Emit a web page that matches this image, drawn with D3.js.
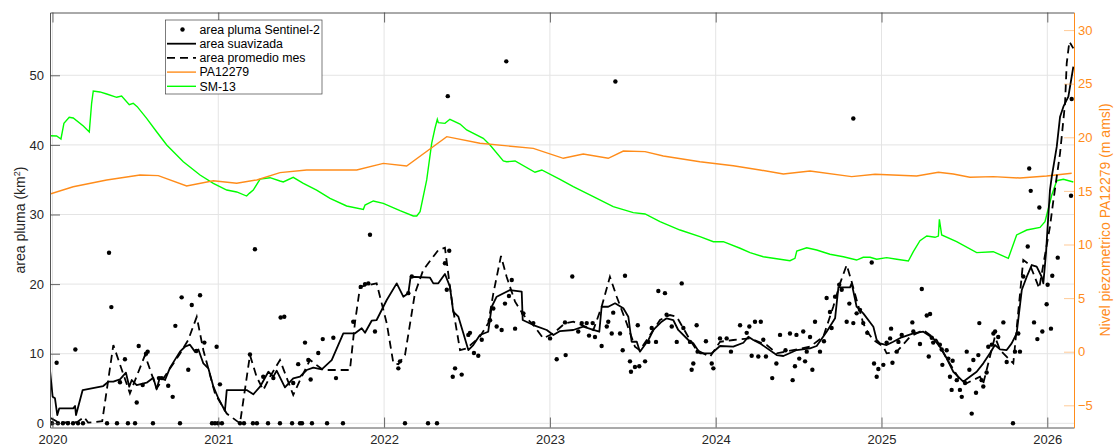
<!DOCTYPE html>
<html>
<head>
<meta charset="utf-8">
<script src="https://cdn.jsdelivr.net/npm/d3@7"></script>
<style>
  body { margin: 0; background: #fff; }
  svg { display: block; font-family: "Liberation Sans", Arial, Helvetica, sans-serif; }
</style>
</head>
<body>
<div id="chart"></div>
<script>
// tick values
const yearTicks = [2020, 2021, 2022, 2023, 2024, 2025, 2026];
const areaTicks = [0, 10, 20, 30, 40, 50];
const levelTicks = [-5, 0, 5, 10, 15, 20, 25, 30];

// area pluma Sentinel-2 (decimal year, km2)
const areaObs = [
  [2020.025,8.7],[2020.138,10.6],[2020.341,24.5],[2020.355,16.7],[2020.407,5.9],[2020.437,9.2],[2020.508,3.0],
  [2020.520,11.1],[2020.544,5.5],[2020.564,10.0],[2020.574,10.3],[2020.642,6.5],[2020.659,6.5],[2020.698,5.4],
  [2020.725,3.8],[2020.741,14.0],[2020.779,18.1],[2020.819,7.7],[2020.840,17.0],[2020.867,10.4],[2020.890,18.4],
  [2020.916,11.6],[2020.990,11.0],[2021.010,5.6],[2021.191,9.9],[2021.221,25.0],[2021.271,6.7],[2021.332,6.5],
  [2021.376,15.2],[2021.398,15.3],[2021.452,5.8],[2021.482,8.5],[2021.523,11.6],[2021.543,9.1],[2021.557,6.3],
  [2021.603,10.1],[2021.630,12.1],[2021.694,12.3],[2021.710,6.5],[2021.814,14.6],[2021.859,19.6],[2021.885,20.0],
  [2021.905,20.1],[2021.915,27.1],[2021.945,13.2],[2022.086,7.9],[2022.096,8.9],[2022.146,18.7],[2022.167,21.1],
  [2022.367,23.0],[2022.378,19.2],[2022.393,24.8],[2022.384,47.0],[2022.414,6.7],[2022.428,7.9],[2022.468,7.0],
  [2022.508,12.7],[2022.518,13.0],[2022.542,10.1],[2022.568,9.7],[2022.589,12.0],[2022.639,14.8],[2022.659,16.5],
  [2022.679,13.9],[2022.709,13.4],[2022.729,17.2],[2022.737,52.0],[2022.753,18.3],[2022.770,20.6],[2022.790,13.6],
  [2022.840,15.8],[2022.900,14.4],[2023.001,12.2],[2023.041,9.2],[2023.091,14.5],[2023.095,9.8],[2023.135,21.1],
  [2023.171,13.2],[2023.192,14.4],[2023.222,14.4],[2023.236,12.6],[2023.258,14.4],[2023.272,12.4],[2023.312,11.1],
  [2023.343,13.9],[2023.352,14.6],[2023.373,12.9],[2023.382,15.9],[2023.395,49.1],[2023.423,12.9],[2023.439,10.5],
  [2023.453,21.2],[2023.483,8.9],[2023.489,7.4],[2023.513,8.1],[2023.530,14.1],[2023.539,8.2],[2023.574,8.9],
  [2023.594,11.7],[2023.614,13.7],[2023.640,11.7],[2023.654,19.0],[2023.694,18.7],[2023.704,15.6],[2023.735,13.9],
  [2023.765,11.7],[2023.795,20.1],[2023.805,13.7],[2023.845,11.7],[2023.855,7.7],[2023.865,8.6],[2023.885,14.1],
  [2023.891,10.3],[2023.941,11.8],[2023.976,8.6],[2023.986,7.9],[2024.026,12.2],[2024.066,12.2],[2024.092,10.3],
  [2024.147,14.1],[2024.187,13.0],[2024.203,13.9],[2024.217,9.7],[2024.237,14.6],[2024.257,9.6],[2024.272,14.6],
  [2024.287,12.0],[2024.303,9.6],[2024.341,6.5],[2024.366,8.6],[2024.388,12.7],[2024.421,10.5],[2024.448,12.9],
  [2024.464,6.2],[2024.478,8.2],[2024.487,12.7],[2024.504,9.3],[2024.528,13.2],[2024.539,8.9],[2024.549,10.3],
  [2024.569,12.4],[2024.583,7.7],[2024.599,14.6],[2024.629,10.3],[2024.653,11.8],[2024.669,18.0],[2024.689,16.0],
  [2024.699,13.7],[2024.720,18.2],[2024.745,19.9],[2024.760,19.2],[2024.790,14.6],[2024.806,17.2],[2024.830,14.4],
  [2024.830,43.8],[2024.850,15.8],[2024.870,16.3],[2024.890,14.4],[2024.914,13.0],[2024.941,23.1],[2024.955,8.6],
  [2024.971,6.7],[2024.981,7.8],[2025.011,8.4],[2025.031,11.6],[2025.052,12.2],[2025.058,13.6],[2025.066,8.7],
  [2025.092,10.3],[2025.102,11.7],[2025.122,12.7],[2025.186,14.5],[2025.192,13.2],[2025.232,11.4],[2025.243,19.3],
  [2025.273,15.5],[2025.285,9.6],[2025.293,15.7],[2025.303,12.3],[2025.312,11.6],[2025.352,11.3],[2025.363,10.6],
  [2025.367,8.4],[2025.393,10.5],[2025.403,9.3],[2025.413,6.7],[2025.423,4.8],[2025.429,9.0],[2025.454,6.2],
  [2025.473,4.8],[2025.484,3.8],[2025.504,5.8],[2025.514,10.3],[2025.530,7.7],[2025.544,1.4],[2025.554,9.1],
  [2025.570,4.4],[2025.584,9.8],[2025.590,14.4],[2025.604,6.2],[2025.614,5.3],[2025.634,7.3],[2025.644,11.0],
  [2025.665,11.3],[2025.675,12.9],[2025.685,13.2],[2025.704,12.4],[2025.735,14.5],[2025.755,8.8],[2025.805,10.3],
  [2025.825,12.9],[2025.835,10.3],[2025.855,21.1],[2025.882,25.4],[2025.891,36.6],[2025.900,33.4],[2025.920,14.5],
  [2025.940,12.1],[2025.952,31.0],[2025.970,13.2],[2025.996,17.1],[2026.002,19.9],[2026.022,13.6],[2026.030,21.2],
  [2026.063,23.8],[2026.143,32.7],[2026.147,46.6],
  [2019.985,0],[2019.997,0],[2020.033,0],[2020.063,0],[2020.093,0],[2020.124,0],[2020.154,0],[2020.184,0],
  [2020.329,0],[2020.389,0],[2020.455,0],[2020.498,0],[2020.606,0],[2020.769,0],[2020.962,0],[2020.980,0],
  [2020.998,0],[2021.022,0],[2021.131,0],[2021.155,0],[2021.209,0],[2021.233,0],[2021.300,0],[2021.372,0],
  [2021.445,0],[2021.493,0],[2021.505,0],[2021.565,0],[2021.656,0],[2021.752,0],[2022.126,0],[2022.265,0],
  [2022.319,0],[2025.793,0]
];

// area suavizada
const areaSmooth = [
  [2019.985,7.66],[2020.001,3.82],[2020.015,3.59],[2020.029,1.19],[2020.041,2.15],[2020.125,2.15],[2020.136,2.5],
  [2020.142,1.19],[2020.182,4.78],[2020.306,5.36],[2020.337,5.98],[2020.367,5.98],[2020.407,6.32],[2020.443,7.27],
  [2020.463,5.26],[2020.478,6.22],[2020.508,5.5],[2020.568,5.83],[2020.608,6.55],[2020.628,4.89],[2020.648,6.61],
  [2020.679,6.22],[2020.709,8.0],[2020.769,10.3],[2020.799,11.0],[2020.829,11.3],[2020.859,10.3],[2020.880,10.6],
  [2020.910,8.6],[2020.940,7.9],[2020.970,5.3],[2021.000,3.6],[2021.040,1.8],[2021.051,4.78],[2021.171,4.78],
  [2021.211,4.17],[2021.252,5.26],[2021.302,7.41],[2021.332,6.7],[2021.352,7.56],[2021.402,5.17],[2021.452,6.47],
  [2021.493,6.7],[2021.533,7.66],[2021.573,7.99],[2021.624,7.76],[2021.684,9.09],[2021.754,12.93],[2021.825,12.93],
  [2021.865,13.65],[2021.885,13.02],[2021.925,14.74],[2021.955,14.84],[2022.016,17.72],[2022.076,20.11],
  [2022.116,18.19],[2022.146,18.68],[2022.160,21.06],[2022.277,20.92],[2022.297,20.11],[2022.327,20.11],
  [2022.367,21.45],[2022.397,19.63],[2022.417,16.03],[2022.448,15.32],[2022.478,12.93],[2022.508,10.53],
  [2022.538,11.25],[2022.578,12.69],[2022.628,13.16],[2022.649,16.75],[2022.679,18.19],[2022.759,19.15],
  [2022.830,18.91],[2022.836,14.84],[2022.900,14.12],[2022.981,13.41],[2023.021,12.69],[2023.061,13.26],
  [2023.141,13.41],[2023.201,13.88],[2023.262,13.41],[2023.298,13.16],[2023.312,16.75],[2023.352,16.75],
  [2023.393,17.24],[2023.443,16.52],[2023.473,15.32],[2023.493,11.72],[2023.524,11.72],[2023.543,10.29],
  [2023.594,11.97],[2023.624,13.41],[2023.674,14.6],[2023.704,15.09],[2023.744,14.84],[2023.774,13.41],
  [2023.835,11.97],[2023.865,11.49],[2023.905,10.06],[2023.976,10.06],[2024.026,11.11],[2024.106,11.01],
  [2024.167,11.58],[2024.197,12.44],[2024.227,11.97],[2024.267,11.49],[2024.368,9.81],[2024.408,9.67],
  [2024.489,10.53],[2024.569,10.78],[2024.609,11.11],[2024.669,13.16],[2024.720,15.09],[2024.740,19.54],
  [2024.810,19.54],[2024.820,20.11],[2024.850,16.75],[2024.890,15.8],[2024.951,13.88],[2024.971,11.97],
  [2024.991,11.49],[2025.031,11.25],[2025.071,11.72],[2025.122,12.36],[2025.192,12.93],[2025.252,13.16],
  [2025.312,12.21],[2025.352,11.01],[2025.393,9.34],[2025.433,7.41],[2025.473,6.47],[2025.493,5.98],
  [2025.533,6.7],[2025.574,7.41],[2025.614,8.62],[2025.654,10.06],[2025.684,11.25],[2025.715,10.63],
  [2025.755,10.53],[2025.785,11.49],[2025.815,12.93],[2025.846,19.15],[2025.876,21.06],[2025.906,22.74],
  [2025.936,22.5],[2025.966,21.06],[2025.976,20.11],[2025.992,24.43],[2026.016,33.52],[2026.027,35.43],
  [2026.057,39.74],[2026.077,44.05],[2026.097,45.49],[2026.127,46.93],[2026.157,51.24]
];

// area promedio mes
const areaMonthly = [
  [2019.985,0.8],[2020.040,0.1],[2020.150,0.2],[2020.190,0.9],[2020.215,0.1],[2020.300,0.3],[2020.367,11.25],
  [2020.467,4.3],[2020.558,9.8],[2020.628,5.0],[2020.769,10.0],[2020.819,12.0],[2020.870,15.3],[2020.910,10.5],
  [2020.980,4.3],[2021.051,1.4],[2021.131,0.0],[2021.191,9.8],[2021.231,6.7],[2021.271,4.78],[2021.312,6.7],
  [2021.372,9.1],[2021.452,4.07],[2021.493,6.22],[2021.553,9.1],[2021.633,7.66],[2021.794,7.66],[2021.825,14.6],
  [2021.855,19.63],[2021.955,20.11],[2022.016,14.37],[2022.056,8.62],[2022.086,8.5],[2022.126,9.8],[2022.186,18.68],
  [2022.236,22.03],[2022.327,24.9],[2022.367,25.23],[2022.397,19.63],[2022.417,16.28],[2022.458,10.53],
  [2022.498,10.78],[2022.578,12.44],[2022.628,14.37],[2022.659,18.68],[2022.705,24.04],[2022.739,21.06],
  [2022.790,17.47],[2022.840,15.56],[2022.900,14.12],[2022.960,12.21],[2023.021,12.93],[2023.091,14.37],
  [2023.141,14.6],[2023.192,14.12],[2023.262,13.41],[2023.312,16.75],[2023.362,21.06],[2023.403,18.19],
  [2023.463,14.37],[2023.513,11.01],[2023.543,10.5],[2023.604,12.69],[2023.664,14.84],[2023.724,15.56],
  [2023.765,15.3],[2023.805,13.65],[2023.845,11.97],[2023.885,10.53],[2023.966,9.57],[2024.026,11.72],
  [2024.106,11.97],[2024.207,12.21],[2024.308,11.25],[2024.368,10.06],[2024.569,11.01],[2024.649,12.44],
  [2024.709,16.75],[2024.750,20.11],[2024.790,22.74],[2024.820,20.34],[2024.850,17.72],[2024.890,14.37],
  [2024.921,12.93],[2024.951,11.97],[2025.011,11.01],[2025.031,10.06],[2025.092,10.29],[2025.172,12.44],
  [2025.252,13.41],[2025.333,11.97],[2025.393,9.3],[2025.473,6.22],[2025.513,5.75],[2025.594,6.7],
  [2025.614,5.75],[2025.684,12.44],[2025.715,10.53],[2025.795,8.62],[2025.855,23.46],[2025.896,22.74],
  [2025.951,19.4],[2026.016,28.25],[2026.037,32.08],[2026.077,38.82],[2026.107,45.98],[2026.117,51.72],
  [2026.133,54.83],[2026.157,53.88]
];

// PA12279 nivel (m amsl)
const levelPA12279 = [
  [2019.985,14.71],[2020.125,15.39],[2020.327,16.02],[2020.528,16.48],[2020.638,16.42],[2020.809,15.46],
  [2020.970,15.95],[2021.111,15.71],[2021.232,16.02],[2021.372,16.7],[2021.533,16.95],[2021.835,16.95],
  [2021.995,17.57],[2022.136,17.32],[2022.378,20.06],[2022.578,19.44],[2022.900,18.97],[2023.081,18.04],
  [2023.201,18.44],[2023.352,18.04],[2023.443,18.72],[2023.574,18.66],[2023.684,18.26],[2023.905,17.72],
  [2024.106,17.35],[2024.267,16.95],[2024.408,16.58],[2024.569,16.86],[2024.820,16.33],[2024.961,16.55],
  [2025.212,16.39],[2025.343,16.74],[2025.433,16.58],[2025.533,16.27],[2025.674,16.33],[2025.835,16.2],
  [2025.996,16.39],[2026.147,16.64]
];

// SM-13 nivel (m amsl)
const levelSM13 = [
  [2019.985,20.15],[2020.025,20.12],[2020.051,19.84],[2020.069,21.3],[2020.101,21.87],[2020.125,21.8],
  [2020.186,21.05],[2020.222,20.5],[2020.236,23.17],[2020.246,24.32],[2020.286,24.23],[2020.327,24.04],
  [2020.387,23.73],[2020.417,23.85],[2020.463,23.04],[2020.487,23.17],[2020.511,22.86],[2020.568,21.77],
  [2020.628,20.52],[2020.689,19.28],[2020.789,17.72],[2020.890,16.48],[2020.970,15.71],[2021.051,15.08],
  [2021.111,14.9],[2021.171,14.52],[2021.187,14.77],[2021.211,15.08],[2021.252,16.1],[2021.312,16.23],
  [2021.372,15.92],[2021.392,15.83],[2021.452,16.27],[2021.513,15.71],[2021.593,15.08],[2021.674,14.31],
  [2021.774,13.59],[2021.875,13.28],[2021.885,13.68],[2021.935,14.06],[2021.995,13.84],[2022.096,13.15],
  [2022.176,12.66],[2022.197,12.66],[2022.217,13.06],[2022.257,16.02],[2022.287,19.44],[2022.307,20.84],
  [2022.321,21.68],[2022.327,21.36],[2022.367,21.3],[2022.397,21.68],[2022.458,21.24],[2022.498,20.68],
  [2022.598,19.9],[2022.639,19.28],[2022.719,17.79],[2022.739,17.72],[2022.790,17.79],[2022.910,16.74],
  [2022.951,16.95],[2023.061,16.08],[2023.141,15.39],[2023.262,14.46],[2023.382,13.53],[2023.503,12.97],
  [2023.574,12.85],[2023.664,12.13],[2023.785,11.35],[2023.905,10.73],[2023.986,10.26],[2024.046,10.26],
  [2024.147,9.65],[2024.207,9.24],[2024.287,8.86],[2024.388,8.62],[2024.448,8.49],[2024.478,8.71],
  [2024.489,9.39],[2024.549,9.7],[2024.609,9.49],[2024.689,9.09],[2024.770,8.86],[2024.850,8.55],
  [2024.890,8.81],[2024.931,8.81],[2024.971,8.62],[2025.031,8.77],[2025.092,8.62],[2025.162,8.46],
  [2025.192,9.33],[2025.232,10.35],[2025.273,10.79],[2025.323,10.67],[2025.343,10.79],[2025.349,12.35],
  [2025.363,10.89],[2025.453,10.26],[2025.574,9.24],[2025.674,9.33],[2025.765,8.71],[2025.815,10.89],
  [2025.876,11.35],[2025.956,11.6],[2025.986,12.13],[2026.027,14.62],[2026.057,15.95],[2026.097,16.08],
  [2026.157,15.83]
];

const orange = "#ff8c1a", green = "#00ff00", ink = "#262626";
const width = 1114, height = 446;
const plot = { left: 50, right: 1074, top: 12.5, bottom: 427.5 };

const svg = d3.select("#chart")
  .append("svg")
  .attr("width", width)
  .attr("height", height);

const x = d3.scaleLinear().domain([2019.985, 2026.161]).range([plot.left, plot.right]);
const yL = d3.scaleLinear().domain([-0.6, 59.02]).range([plot.bottom, plot.top]);
const yR = d3.scaleLinear().domain([-7.07, 31.64]).range([plot.bottom, plot.top]);

// grid
svg.append("g").selectAll("line").data(yearTicks).join("line")
  .attr("x1", d => x(d)).attr("x2", d => x(d))
  .attr("y1", plot.top).attr("y2", plot.bottom)
  .attr("stroke", "#e4e4e4");
svg.append("g").selectAll("line").data(areaTicks).join("line")
  .attr("x1", plot.left).attr("x2", plot.right)
  .attr("y1", d => yL(d)).attr("y2", d => yL(d))
  .attr("stroke", "#e4e4e4");

// clip for data
svg.append("clipPath").attr("id", "clip")
  .append("rect")
  .attr("x", plot.left).attr("y", plot.top)
  .attr("width", plot.right - plot.left).attr("height", plot.bottom - plot.top);

const data = svg.append("g").attr("clip-path", "url(#clip)");

const lineR = d3.line().x(d => x(d[0])).y(d => yR(d[1]));
const lineL = d3.line().x(d => x(d[0])).y(d => yL(d[1]));

data.append("path").datum(levelSM13)
  .attr("fill", "none").attr("stroke", green).attr("stroke-width", 1.4)
  .attr("d", lineR);
data.append("path").datum(levelPA12279)
  .attr("fill", "none").attr("stroke", orange).attr("stroke-width", 1.4)
  .attr("d", lineR);

data.append("g").selectAll("circle").data(areaObs).join("circle")
  .attr("cx", d => x(d[0])).attr("cy", d => yL(d[1]))
  .attr("r", 2.2).attr("fill", "#000");

data.append("path").datum(areaMonthly)
  .attr("fill", "none").attr("stroke", "#000").attr("stroke-width", 1.8)
  .attr("stroke-dasharray", "8,5")
  .attr("d", lineL);
data.append("path").datum(areaSmooth)
  .attr("fill", "none").attr("stroke", "#000").attr("stroke-width", 1.8)
  .attr("stroke-linejoin", "round")
  .attr("d", lineL);

// axes
const fontSize = "13px";

const gLeft = svg.append("g").attr("transform", `translate(${plot.left},0)`)
  .call(d3.axisLeft(yL).tickValues(areaTicks).tickSize(-10).tickSizeOuter(0).tickPadding(6));
const gBottom = svg.append("g").attr("transform", `translate(0,${plot.bottom})`)
  .call(d3.axisBottom(x).tickValues(yearTicks).tickFormat(d3.format("d")).tickSize(-10).tickSizeOuter(0).tickPadding(7));
const gTop = svg.append("g").attr("transform", `translate(0,${plot.top})`)
  .call(d3.axisTop(x).tickValues(yearTicks).tickFormat("").tickSize(-10).tickSizeOuter(0));
const gRight = svg.append("g").attr("transform", `translate(${plot.right},0)`)
  .call(d3.axisRight(yR).tickValues(levelTicks).tickSize(-10).tickSizeOuter(0).tickPadding(4));

[gLeft, gBottom, gTop].forEach(g => {
  g.select(".domain").attr("stroke", "#555").attr("stroke-width", 1);
  g.selectAll(".tick line").attr("stroke", "#444").attr("stroke-width", 0.8);
  g.selectAll("text").attr("fill", ink).style("font-size", fontSize)
    .style("font-family", '"Liberation Sans", Arial, sans-serif');
});
gRight.select(".domain").attr("stroke", orange).attr("stroke-width", 1);
gRight.selectAll(".tick line").attr("stroke", orange).attr("stroke-opacity", 0.45);
gRight.selectAll("text").attr("fill", orange).style("font-size", fontSize)
  .style("font-family", '"Liberation Sans", Arial, sans-serif');

// axis labels
const ylab = svg.append("text")
  .attr("transform", `translate(25,${(plot.top + plot.bottom) / 2}) rotate(-90)`)
  .attr("text-anchor", "middle")
  .attr("fill", ink)
  .style("font-size", "14px");
ylab.append("tspan").text("area pluma (km");
ylab.append("tspan").attr("baseline-shift", "super").style("font-size", "9px").text("2");
ylab.append("tspan").text(")");

svg.append("text")
  .attr("transform", `translate(1110,${(plot.top + plot.bottom) / 2}) rotate(-90)`)
  .attr("text-anchor", "middle")
  .attr("fill", orange)
  .style("font-size", "14px")
  .text("Nivel piezometrico PA12279 (m amsl)");

// legend
const legendItems = [
  { label: "area pluma Sentinel-2", kind: "dot", color: "#000" },
  { label: "area suavizada", kind: "line", color: "#000", dash: null, w: 1.8 },
  { label: "area promedio mes", kind: "line", color: "#000", dash: "8,5", w: 1.8 },
  { label: "PA12279", kind: "line", color: orange, dash: null, w: 1.4 },
  { label: "SM-13", kind: "line", color: green, dash: null, w: 1.4 }
];

const legend = svg.append("g").attr("transform", "translate(165.5,20)");
legend.append("rect")
  .attr("width", 156.5).attr("height", 74)
  .attr("fill", "#fff").attr("stroke", "#444").attr("stroke-width", 0.7);

const rows = legend.selectAll("g.row").data(legendItems).join("g")
  .attr("class", "row")
  .attr("transform", (d, i) => `translate(0,${9.5 + i * 14.2})`);

rows.filter(d => d.kind === "dot").append("circle")
  .attr("cx", 17).attr("cy", 0).attr("r", 2.2).attr("fill", d => d.color);
rows.filter(d => d.kind === "line").append("line")
  .attr("x1", 1.5).attr("x2", 30.5).attr("y1", 0).attr("y2", 0)
  .attr("stroke", d => d.color).attr("stroke-width", d => d.w)
  .attr("stroke-dasharray", d => d.dash);
rows.append("text")
  .attr("x", 34).attr("dy", "0.35em")
  .attr("fill", "#000")
  .style("font-size", "12.3px")
  .text(d => d.label);
</script>
</body>
</html>
